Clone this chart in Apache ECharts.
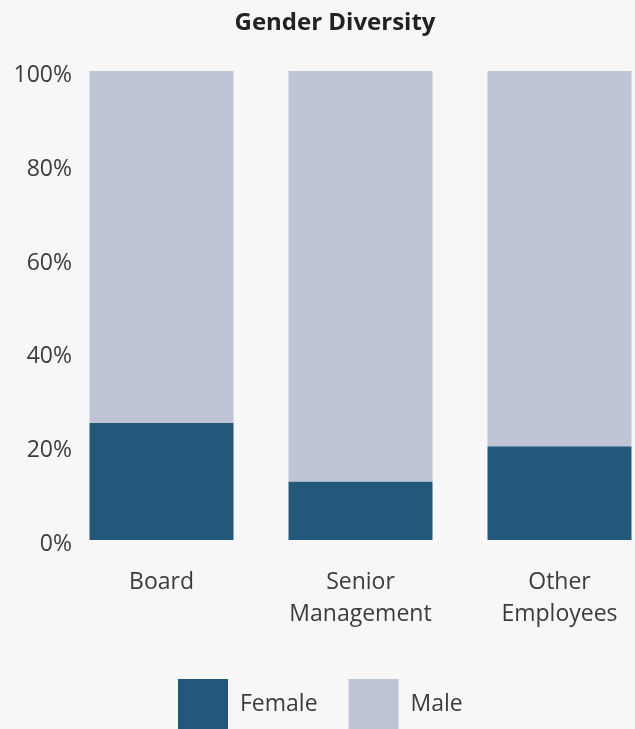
<!DOCTYPE html>
<html>
<head>
<meta charset="utf-8">
<script src="https://cdn.jsdelivr.net/npm/echarts@6/dist/echarts.min.js"></script>
<style>
  html, body { margin: 0; padding: 0; background: #f7f7f7; overflow: hidden; }
  /* the plot runs past the right edge of the page, so the canvas is wider than the view */
  #chart { width: 660px; height: 729px; }
</style>
</head>
<body>
<div id="chart"></div>
<script>
// Gender split by employee group (percent of headcount)
const categories = ['Board', 'Senior Management', 'Other Employees'];
const femaleShare = [25, 12.5, 20];
const maleShare = [75, 87.5, 80];
const yTicks = [0, 20, 40, 60, 80, 100];

const FONT = '"Open Sans", Lato, sans-serif';
const chart = echarts.init(document.getElementById('chart'));

chart.setOption({
  backgroundColor: '#f7f7f7',
  animation: false,
  title: {
    text: 'Gender Diversity',
    left: 330,
    textAlign: 'center',
    top: 6,
    textStyle: { fontFamily: FONT, fontSize: 24, fontWeight: 'bold', color: '#222' }
  },
  legend: {
    data: ['Female', 'Male'],
    left: 173,
    top: 674,
    itemWidth: 50,
    itemHeight: 50,
    itemGap: 31,
    icon: 'rect',
    textStyle: { fontFamily: FONT, fontSize: 23, color: '#3c3c3c', padding: [3, 0, 0, 7] }
  },
  grid: { left: 62, top: 71, right: 1, height: 469, containLabel: false },
  xAxis: {
    type: 'category',
    data: categories,
    axisLine: { show: false },
    axisTick: { show: false },
    axisLabel: {
      margin: 26,
      fontFamily: FONT,
      fontSize: 23,
      lineHeight: 32,
      color: '#3c3c3c',
      formatter: v => v.replace(' ', '\n')
    }
  },
  yAxis: {
    type: 'value',
    min: yTicks[0],
    max: yTicks[yTicks.length - 1],
    interval: 20,
    splitLine: { show: false },
    axisLine: { show: false },
    axisTick: { show: false },
    axisLabel: {
      margin: -10,
      fontFamily: FONT,
      fontSize: 23,
      color: '#3c3c3c',
      verticalAlign: 'top',
      padding: [-7, 0, 0, 0],
      formatter: '{value}%'
    }
  },
  series: [
    {
      name: 'Female',
      type: 'bar',
      stack: 'total',
      barWidth: 144,
      itemStyle: { color: '#22587a' },
      data: femaleShare
    },
    {
      name: 'Male',
      type: 'bar',
      stack: 'total',
      barWidth: 144,
      itemStyle: { color: '#bec4d4' },
      data: maleShare
    }
  ]
});
</script>
</body>
</html>
